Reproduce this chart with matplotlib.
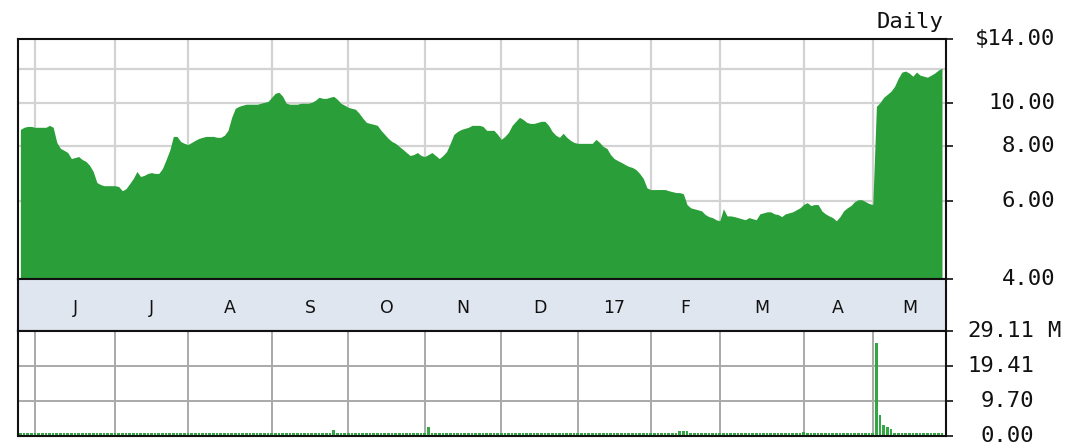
import matplotlib
matplotlib.use("Agg")
import matplotlib.pyplot as plt
from matplotlib.ticker import NullLocator
import numpy as np
import pandas as pd

# trading calendar: one year of sessions, exchange holidays removed
holidays = ["2016-05-30", "2016-07-04", "2016-09-05", "2016-11-24", "2016-12-26",
            "2017-01-02", "2017-01-16", "2017-02-20", "2017-04-14"]
dates = pd.bdate_range("2016-05-25", "2017-05-26", freq="C", holidays=holidays)

# daily closing price ($)
prices = [
    8.73, 8.83, 8.87, 8.87, 8.83, 8.83, 8.83, 8.83, 8.92, 8.83,
    8.16, 7.91, 7.83, 7.74, 7.50, 7.54, 7.58, 7.46, 7.39, 7.24,
    7.01, 6.62, 6.55, 6.51, 6.51, 6.51, 6.51, 6.48, 6.34, 6.41,
    6.58, 6.76, 7.01, 6.83, 6.87, 6.94, 6.97, 6.94, 6.94, 7.12,
    7.46, 7.83, 8.42, 8.42, 8.20, 8.12, 8.07, 8.16, 8.25, 8.33,
    8.38, 8.42, 8.42, 8.42, 8.38, 8.38, 8.47, 8.69, 9.30, 9.75,
    9.85, 9.91, 9.96, 9.96, 9.96, 9.96, 10.01, 10.06, 10.11, 10.33,
    10.55, 10.60, 10.38, 10.01, 9.96, 9.96, 9.96, 10.01, 10.01, 10.01,
    10.06, 10.17, 10.33, 10.27, 10.27, 10.33, 10.38, 10.22, 10.01, 9.91,
    9.80, 9.75, 9.70, 9.50, 9.26, 9.06, 9.01, 8.97, 8.92, 8.69,
    8.51, 8.33, 8.20, 8.12, 7.99, 7.87, 7.74, 7.62, 7.66, 7.74,
    7.62, 7.58, 7.66, 7.74, 7.62, 7.50, 7.62, 7.78, 8.12, 8.51,
    8.64, 8.73, 8.78, 8.83, 8.92, 8.92, 8.92, 8.87, 8.69, 8.69,
    8.69, 8.51, 8.29, 8.42, 8.60, 8.92, 9.11, 9.30, 9.20, 9.06,
    9.01, 9.01, 9.06, 9.11, 9.11, 8.92, 8.64, 8.47, 8.38, 8.56,
    8.38, 8.25, 8.16, 8.12, 8.12, 8.12, 8.12, 8.12, 8.29, 8.16,
    7.99, 7.91, 7.66, 7.50, 7.42, 7.35, 7.27, 7.20, 7.16, 7.08,
    6.94, 6.76, 6.44, 6.38, 6.38, 6.38, 6.38, 6.38, 6.34, 6.31,
    6.28, 6.28, 6.24, 5.90, 5.80, 5.77, 5.74, 5.71, 5.60, 5.54,
    5.51, 5.45, 5.42, 5.77, 5.56, 5.56, 5.54, 5.51, 5.48, 5.45,
    5.51, 5.48, 5.45, 5.62, 5.65, 5.68, 5.68, 5.62, 5.60, 5.54,
    5.62, 5.65, 5.68, 5.74, 5.80, 5.90, 5.96, 5.87, 5.90, 5.90,
    5.71, 5.62, 5.56, 5.51, 5.42, 5.54, 5.71, 5.80, 5.87, 5.99,
    6.05, 6.05, 5.99, 5.93, 5.90, 9.85, 10.05, 10.33, 10.49, 10.66,
    10.94, 11.41, 11.78, 11.84, 11.72, 11.53, 11.78, 11.59, 11.53, 11.47,
    11.59, 11.72, 11.90, 12.03,
]

# daily volume (millions of shares)
volume = [
    0.7, 0.7, 0.7, 0.7, 0.7, 0.7, 0.7, 0.7, 0.7, 0.7,
    0.7, 0.7, 0.7, 0.7, 0.7, 0.7, 0.7, 0.7, 0.7, 0.7,
    0.7, 0.7, 0.7, 0.7, 0.7, 0.7, 0.7, 0.7, 0.7, 0.7,
    0.7, 0.7, 0.7, 0.7, 0.7, 0.7, 0.7, 0.7, 0.7, 0.7,
    0.7, 0.7, 0.7, 0.7, 0.7, 0.7, 0.7, 0.7, 0.7, 0.7,
    0.7, 0.7, 0.7, 0.7, 0.7, 0.7, 0.7, 0.7, 0.7, 0.7,
    0.7, 0.7, 0.7, 0.7, 0.7, 0.7, 0.7, 0.7, 0.7, 0.7,
    0.7, 0.7, 0.7, 0.7, 0.7, 0.7, 0.7, 0.7, 0.7, 0.7,
    0.7, 0.7, 0.7, 0.7, 0.7, 0.7, 1.8, 0.7, 0.7, 0.7,
    0.7, 0.7, 0.7, 0.7, 0.7, 0.7, 0.7, 0.7, 0.7, 0.7,
    0.7, 0.7, 0.7, 0.7, 0.7, 0.7, 0.7, 0.7, 0.7, 0.7,
    0.7, 0.7, 2.6, 0.7, 0.7, 0.7, 0.7, 0.7, 0.7, 0.7,
    0.7, 0.7, 0.7, 0.7, 0.7, 0.7, 0.7, 0.7, 0.7, 0.7,
    0.7, 0.7, 0.7, 0.7, 0.7, 0.7, 0.7, 0.7, 0.7, 0.7,
    0.7, 0.7, 0.7, 0.7, 0.7, 0.7, 0.7, 0.7, 0.7, 0.7,
    0.7, 0.7, 0.7, 0.7, 0.7, 0.7, 0.7, 0.7, 0.7, 0.7,
    0.7, 0.7, 0.7, 0.7, 0.7, 0.7, 0.7, 0.7, 0.7, 0.7,
    0.7, 0.7, 0.7, 0.7, 0.7, 0.7, 0.7, 0.7, 0.7, 0.7,
    0.7, 1.3, 1.3, 1.3, 0.7, 0.7, 0.7, 0.7, 0.7, 0.7,
    0.7, 0.7, 0.7, 0.7, 0.7, 0.7, 0.7, 0.7, 0.7, 0.7,
    0.7, 0.7, 0.7, 0.7, 0.7, 0.7, 0.7, 0.7, 0.7, 0.7,
    0.7, 0.7, 0.7, 0.7, 0.7, 1.2, 0.7, 0.7, 0.7, 0.7,
    0.7, 0.7, 0.7, 0.7, 0.7, 0.7, 0.7, 0.7, 0.7, 0.7,
    0.7, 0.7, 0.7, 0.7, 0.7, 25.9, 5.9, 3.0, 2.4, 1.9,
    0.9, 0.7, 0.7, 0.7, 0.7, 0.7, 0.7, 0.7, 0.7, 0.7,
    0.7, 0.7, 0.7, 0.7,
]

price_ticks = [4, 6, 8, 10, 14]
price_grid = [6, 8, 10, 12]
vol_ticks = [0.00, 9.70, 19.41, 29.11]

GREEN = "#2a9e38"
BAND = "#e0e6f0"
EDGE = "#111111"

x = np.arange(len(dates))
xlim = (-0.65, len(dates) + 0.1)

month_starts = [i for i in range(1, len(dates)) if dates[i].month != dates[i - 1].month]
month_labels = []
for i in month_starts:
    d = dates[i]
    month_labels.append(f"{d.year % 100:02d}" if d.month == 1 else d.strftime("%b")[0])

fig = plt.figure(figsize=(10.86, 4.48), dpi=100)
left, width = 18 / 1086, 928 / 1086
ax_p = fig.add_axes([left, 1 - 279 / 448, width, 240 / 448])
ax_m = fig.add_axes([left, 1 - 331 / 448, width, 52 / 448])
ax_v = fig.add_axes([left, 1 - 436 / 448, width, 105 / 448])

# --- price panel ---
ax_p.set_yscale("log")
ax_p.set_ylim(4, 14)
ax_p.set_xlim(*xlim)
for g in price_grid:
    ax_p.axhline(g, color="#d3d3d3", lw=1.6, zorder=1)
for i in month_starts:
    ax_p.axvline(i, color="#d3d3d3", lw=1.6, zorder=1)
ax_p.fill_between(x, prices, 3.9, color=GREEN, lw=0, zorder=2)

ax_p.set_xticks([])
ax_p.yaxis.set_minor_locator(NullLocator())
ax_p.set_yticks(price_ticks)
ax_p.tick_params(axis="y", left=False, right=True, labelleft=False, labelright=False,
                 length=5, width=1.2, direction="out", color=EDGE)
ytrans = ax_p.get_yaxis_transform()
for v in price_ticks:
    label = f"${v:.2f}" if v == max(price_ticks) else f"{v:.2f}"
    ax_p.text(1.1175, v, label, transform=ytrans, ha="right", va="center",
              fontsize=16, family="DejaVu Sans Mono", color="#111111", clip_on=False)
ax_p.text(0.997, 1.071, "Daily", transform=ax_p.transAxes, ha="right", va="center",
          fontsize=16, family="DejaVu Sans Mono", color="#111111")

# --- month band ---
ax_m.set_facecolor(BAND)
ax_m.set_xlim(*xlim)
ax_m.set_ylim(0, 1)
ax_m.set_xticks([])
ax_m.set_yticks([])
bounds = month_starts + [xlim[1]]
for k, lab in enumerate(month_labels):
    ax_m.text((bounds[k] + bounds[k + 1]) / 2, 0.45, lab, ha="center", va="center",
              fontsize=12.5, color="#111111")

# --- volume panel ---
ax_v.set_xlim(*xlim)
ax_v.set_ylim(0, vol_ticks[-1])
for g in vol_ticks[1:-1]:
    ax_v.axhline(g, color="#a9a9a9", lw=1.4, zorder=1)
for i in month_starts:
    ax_v.axvline(i, color="#a9a9a9", lw=1.4, zorder=1)
ax_v.bar(x, volume, width=0.72, color="#33a743", lw=0, zorder=2)
ax_v.set_xticks([])
ax_v.set_yticks(vol_ticks)
ax_v.tick_params(axis="y", left=False, right=True, labelleft=False, labelright=False,
                 length=5, width=1.2, direction="out", color=EDGE)
vtrans = ax_v.get_yaxis_transform()
for v in vol_ticks:
    ax_v.text(1.0948, v, f"{v:.2f}", transform=vtrans, ha="right", va="center",
              fontsize=16, family="DejaVu Sans Mono", color="#111111", clip_on=False)
ax_v.text(1.1088, vol_ticks[-1], "M", transform=vtrans, ha="left", va="center",
          fontsize=16, family="DejaVu Sans Mono", color="#111111", clip_on=False)

for a in (ax_p, ax_m, ax_v):
    for s in a.spines.values():
        s.set_color(EDGE)
        s.set_linewidth(1.5)

fig.savefig("out.png", dpi=100, facecolor="white")
